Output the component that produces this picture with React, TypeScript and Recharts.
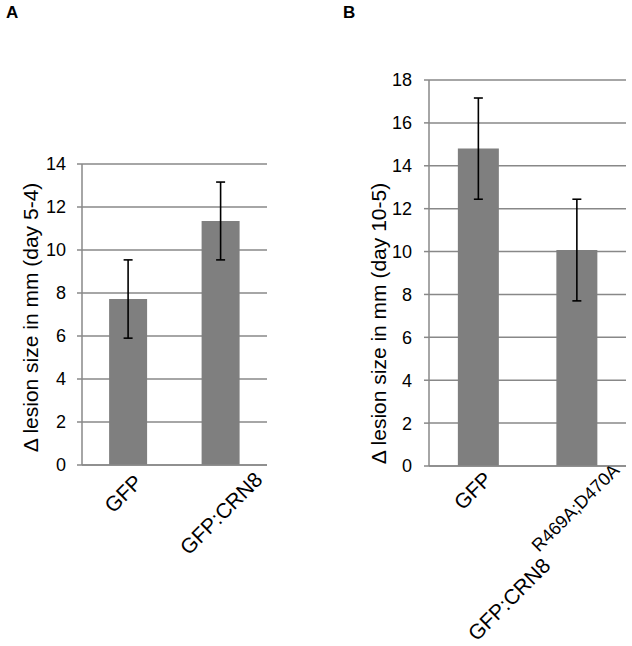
import React from "react";
import { BarChart, Bar, XAxis, YAxis, CartesianGrid, ErrorBar, Label } from "recharts";

const categoriesA = ["GFP", "GFP:CRN8"];
const meansA = [7.72, 11.35];
const errorsA = [1.82, 1.81];
const ticksA = [0, 2, 4, 6, 8, 10, 12, 14];

const categoriesB = ["GFP", "GFP:CRN8"];
const superscriptsB = ["", "R469A;D470A"];
const meansB = [14.8, 10.07];
const errorsB = [2.36, 2.37];
const ticksB = [0, 2, 4, 6, 8, 10, 12, 14, 16, 18];

const dataA = categoriesA.map((name, i) => ({ name, mean: meansA[i], err: errorsA[i] }));
const dataB = categoriesB.map((name, i) => ({ name, mean: meansB[i], err: errorsB[i] }));

const GRID = "#888888";
const BAR = "#7f7f7f";
const FONT = "'Liberation Sans', Arial, sans-serif";

function makeTick(sups: string[], offsets: [number, number][]) {
	return (props: any) => {
		const { x, y, payload } = props;
		const i = props.index ?? payload.index ?? 0;
		const [dx, dy] = offsets[i];
		const sx = x + dx;
		const sy = y + dy;
		return (
			<text x={sx}
			      y={sy}
			      transform={`rotate(-45 ${sx} ${sy})`}
			      textAnchor="start"
			      fontSize={21}
			      fill="#000">
				{payload.value}
				{sups[i] ? <tspan fontSize={18} dx={1} dy={-19}>{sups[i]}</tspan> : null}
			</text>
		);
	};
}

function yTitle(text: string, x: number, y: number) {
	return () => (
		<text x={x}
		      y={y}
		      transform={`rotate(-90 ${x} ${y})`}
		      textAnchor="middle"
		      fontSize={21}
		      fill="#000">
			{text}
		</text>
	);
}

export default function App() {
	return (
		<div style={{ position: "absolute", left: 0, top: 0, width: 632, height: 646, background: "#fff", fontFamily: FONT }}>
			<div style={{ position: "absolute", left: 6, top: 3, fontSize: 17, fontWeight: "bold" }}>A</div>
			<div style={{ position: "absolute", left: 343, top: 3, fontSize: 17, fontWeight: "bold" }}>B</div>

			<div style={{ position: "absolute", left: 0, top: 0 }}>
				<BarChart width={320}
				          height={646}
				          data={dataA}
				          barCategoryGap="29.3%"
				          margin={{ top: 164, right: 53, left: 0, bottom: 0 }}>
					<CartesianGrid vertical={false}
					               stroke={GRID}
					               strokeWidth={1.5} />
					<XAxis dataKey="name"
					       height={181}
					       interval={0}
					       axisLine={{ stroke: GRID, strokeWidth: 1.5 }}
					       tickLine={false}
					       tickSize={0}
					       tickMargin={0}
					       tick={makeTick(["", ""], [[-15, 49], [-32, 91]])} />
					<YAxis domain={[0, 14]}
					       ticks={ticksA}
					       width={82}
					       interval={0}
					       axisLine={{ stroke: GRID, strokeWidth: 1.5 }}
					       tickLine={{ stroke: GRID, strokeWidth: 1.5 }}
					       tickSize={5}
					       tickMargin={11}
					       tick={{ fontSize: 18, fill: "#000" }}>
						<Label content={yTitle("Δ lesion size in mm (day 5-4)", 37.5, 317.5)} />
					</YAxis>
					<Bar dataKey="mean"
					     fill={BAR}
					     isAnimationActive={false}>
						<ErrorBar dataKey="err"
						          width={4.5}
						          stroke="#000"
						          strokeWidth={1.6}
						          isAnimationActive={false} />
					</Bar>
				</BarChart>
			</div>

			<div style={{ position: "absolute", left: 320, top: 0 }}>
				<BarChart width={312}
				          height={646}
				          data={dataB}
				          barCategoryGap="29.3%"
				          margin={{ top: 80, right: 6, left: 0, bottom: 0 }}>
					<CartesianGrid vertical={false}
					               stroke={GRID}
					               strokeWidth={1.5} />
					<XAxis dataKey="name"
					       height={180}
					       interval={0}
					       axisLine={{ stroke: GRID, strokeWidth: 1.5 }}
					       tickLine={false}
					       tickSize={0}
					       tickMargin={0}
					       tick={makeTick(superscriptsB, [[-15.5, 45], [-100, 176]])} />
					<YAxis domain={[0, 18]}
					       ticks={ticksB}
					       width={109}
					       interval={0}
					       axisLine={{ stroke: GRID, strokeWidth: 1.5 }}
					       tickLine={{ stroke: GRID, strokeWidth: 1.5 }}
					       tickSize={5}
					       tickMargin={12}
					       tick={{ fontSize: 18, fill: "#000" }}>
						<Label content={yTitle("Δ lesion size in mm (day 10-5)", 65.5, 323.5)} />
					</YAxis>
					<Bar dataKey="mean"
					     fill={BAR}
					     isAnimationActive={false}>
						<ErrorBar dataKey="err"
						          width={4.5}
						          stroke="#000"
						          strokeWidth={1.6}
						          isAnimationActive={false} />
					</Bar>
				</BarChart>
			</div>
		</div>
	);
}
